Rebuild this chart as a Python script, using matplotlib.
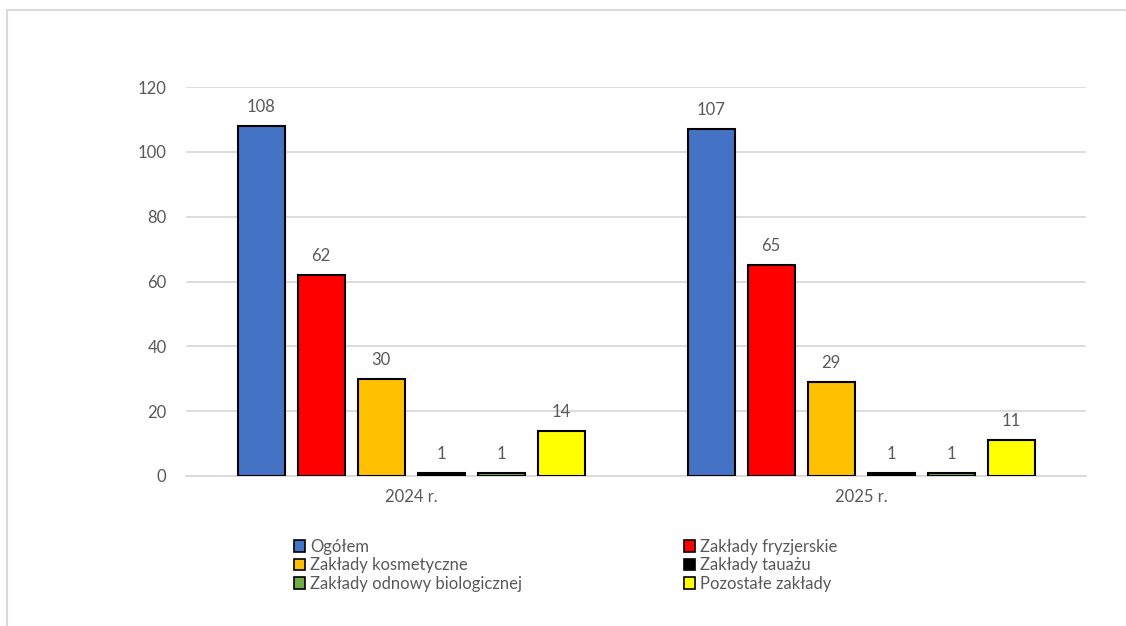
import matplotlib.pyplot as plt
import numpy as np
from matplotlib.patches import Patch, Rectangle

plt.rcParams['font.family'] = ['Lato', 'DejaVu Sans']

years = ["2024 r.", "2025 r."]
series = [
    "Ogółem",
    "Zakłady fryzjerskie",
    "Zakłady kosmetyczne",
    "Zakłady tauażu",
    "Zakłady odnowy biologicznej",
    "Pozostałe zakłady",
]
values_2024 = [108, 62, 30, 1, 1, 14]
values_2025 = [107, 65, 29, 1, 1, 11]
colors = ["#4472C4", "#FF0000", "#FFC000", "#000000", "#70AD47", "#FFFF00"]

text_color = "#595959"
grid_color = "#D9D9D9"

fig = plt.figure(figsize=(11.26, 6.26), dpi=100)

# chart frame, open to the right and bottom
top = 1 - 10 / 626
fig.patches.append(Rectangle((7 / 1126, -0.1), 1.2, top + 0.1,
                             transform=fig.transFigure, fill=False,
                             edgecolor="#D9D9D9", linewidth=1.5))

ax = fig.add_axes([186 / 1126, 1 - 476 / 626, 900 / 1126, 389 / 626])

data = np.array([values_2024, values_2025])
x = np.arange(len(years))
slot = 60 / 450
width = 47 / 450

for i, name in enumerate(series):
    pos = x + (i - 2.5) * slot
    bars = ax.bar(pos, data[:, i], width, color=colors[i], edgecolor="black",
                  linewidth=1.5, label=name, zorder=3)
    for b, v in zip(bars, data[:, i]):
        ax.annotate(str(v), (b.get_x() + b.get_width() / 2, v),
                    xytext=(0, 8), textcoords="offset points",
                    ha="center", va="bottom", fontsize=12, color=text_color)

ax.set_xlim(-0.5, 1.5)
ax.set_ylim(0, 120)
ax.set_yticks(range(0, 121, 20))
ax.set_xticks(x)
ax.set_xticklabels(years)
ax.yaxis.grid(True, color=grid_color, linewidth=1.3, zorder=0)
ax.set_axisbelow(True)
for s in ["top", "right", "left"]:
    ax.spines[s].set_visible(False)
ax.spines["bottom"].set_color(grid_color)
ax.spines["bottom"].set_linewidth(1.3)
ax.tick_params(axis="both", length=0, labelsize=12, labelcolor=text_color)
ax.tick_params(axis="y", pad=14)
ax.tick_params(axis="x", pad=9)

handles = [Patch(facecolor=c, edgecolor="black", linewidth=1.2) for c in colors]
leg_kw = dict(frameon=False, fontsize=12, handlelength=0.7, handleheight=0.7,
              handletextpad=0.3, labelspacing=0.16, borderaxespad=0,
              labelcolor=text_color)
leg1 = fig.legend(handles[0::2], series[0::2], loc="upper left",
                  bbox_to_anchor=(287 / 1126, 1 - 532 / 626), **leg_kw)
leg2 = fig.legend(handles[1::2], series[1::2], loc="upper left",
                  bbox_to_anchor=(677 / 1126, 1 - 532 / 626), **leg_kw)

fig.savefig("out.png", dpi=100)
